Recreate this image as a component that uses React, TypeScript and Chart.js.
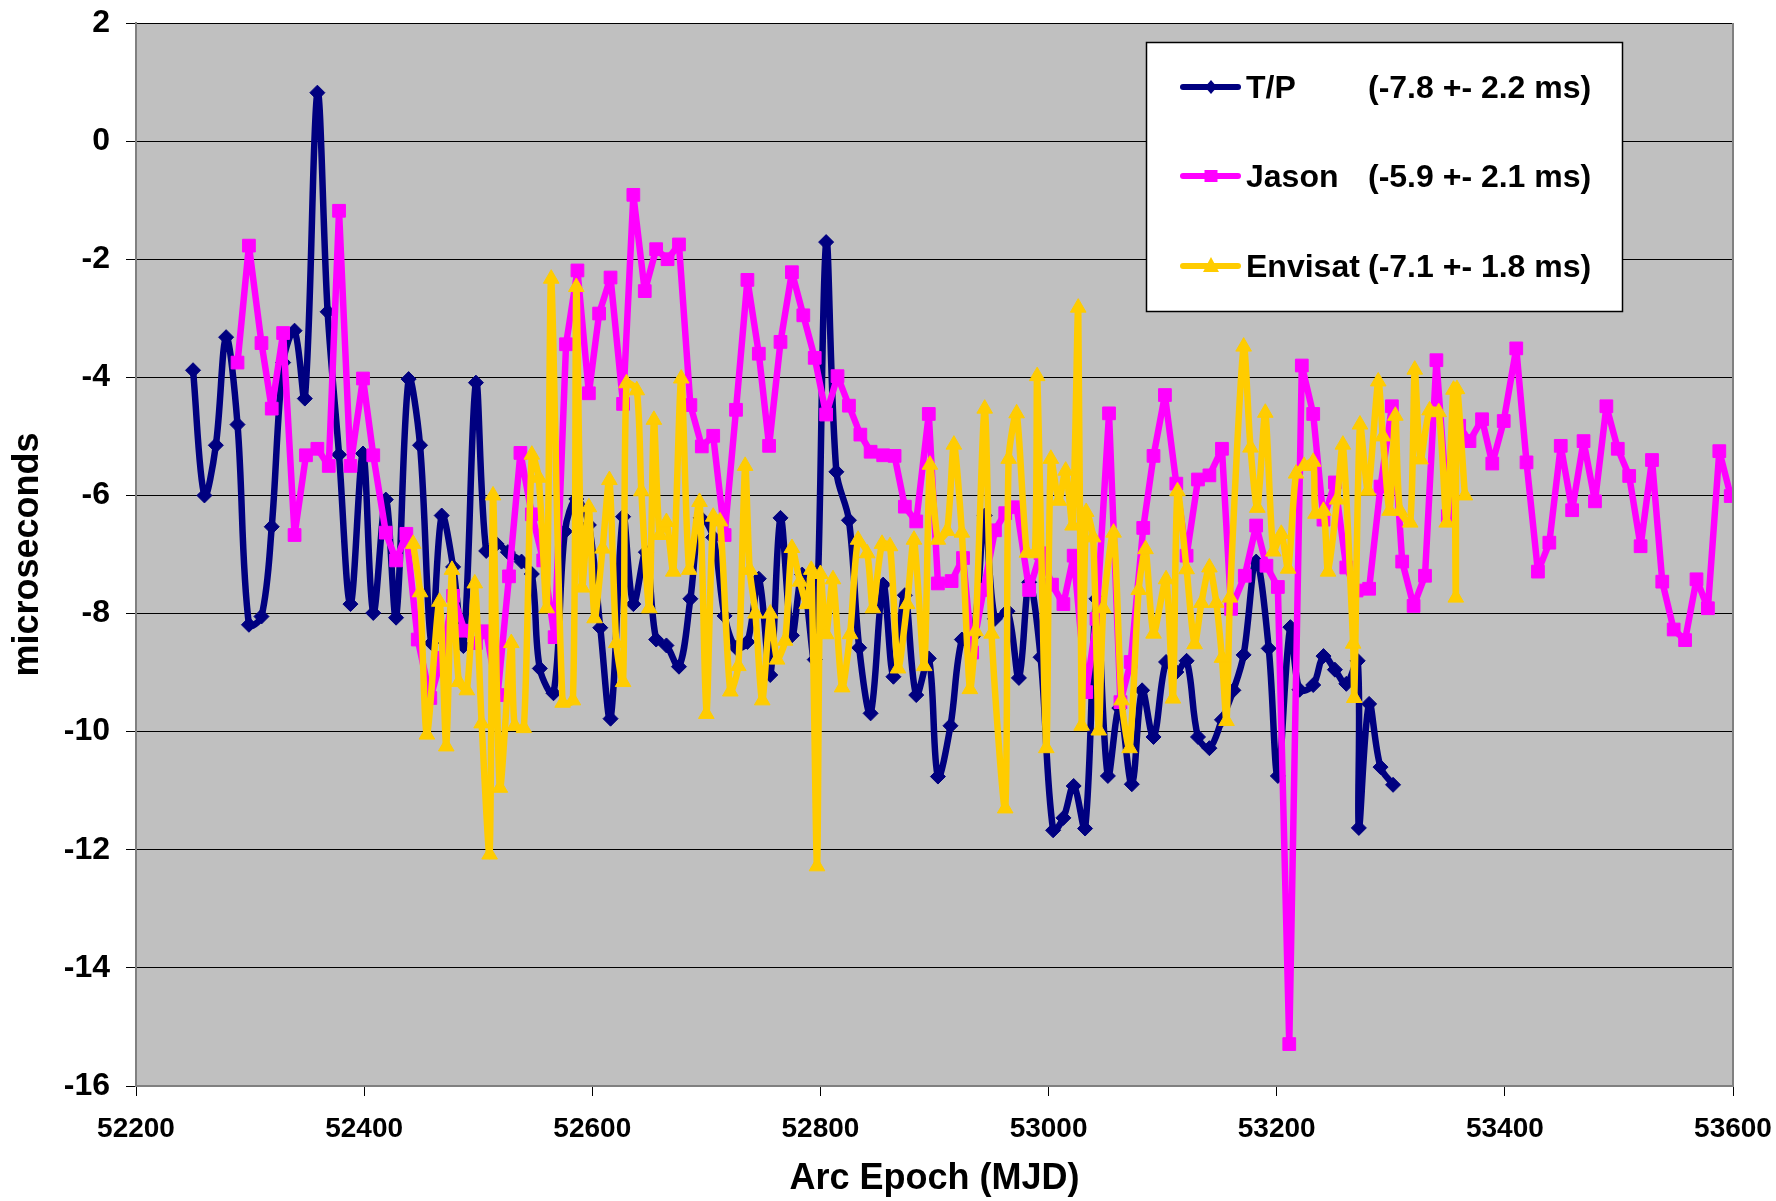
import React, { useEffect, useRef } from "react";
import { Chart, registerables } from "chart.js";

Chart.register(...registerables);

// ---- Data (MJD, microseconds) ----
const tpMjd = [
  52250, 52260, 52270, 52279, 52289, 52299, 52310, 52319, 52329, 52339, 52348, 52359, 52368, 52378, 52388,
  52399, 52408, 52419, 52428, 52439, 52449, 52459, 52468, 52478, 52487, 52498, 52507, 52516, 52526, 52538,
  52547, 52554, 52566, 52576, 52586, 52597, 52607, 52616, 52627, 52636, 52647, 52656, 52665, 52676, 52686,
  52695, 52706, 52716, 52726, 52736, 52746, 52756, 52765, 52775, 52784, 52795, 52805, 52814, 52825, 52834,
  52844, 52855, 52864, 52874, 52884, 52895, 52903, 52914, 52924, 52934, 52944, 52953, 52964, 52974, 52983,
  52993, 53004, 53013, 53022, 53032, 53042, 53052, 53062, 53073, 53082, 53092, 53103, 53112, 53121, 53131,
  53141, 53152, 53162, 53171, 53182, 53193, 53201, 53212, 53220, 53232, 53241, 53251, 53261, 53271, 53272,
  53281, 53291, 53302,
];
const tpVal = [
  -3.88, -6.0, -5.15, -3.32, -4.8, -8.19, -8.05, -6.53, -3.75, -3.21, -4.36, 0.82, -2.89, -5.31, -7.84,
  -5.29, -7.99, -6.07, -8.07, -4.03, -5.15, -8.5, -6.34, -7.21, -8.55, -4.09, -6.94, -6.82, -6.96, -7.12,
  -7.33, -8.93, -9.35, -6.61, -6.06, -6.5, -8.24, -9.78, -6.36, -7.84, -6.96, -8.44, -8.54, -8.9, -7.75,
  -6.38, -6.71, -8.04, -8.58, -8.48, -7.41, -9.04, -6.38, -8.37, -7.34, -8.78, -1.71, -5.6, -6.42, -8.58,
  -9.69, -7.51, -9.07, -7.69, -9.38, -8.76, -10.76, -9.9, -8.44, -8.38, -6.34, -8.09, -7.96, -9.09, -7.47,
  -8.74, -11.67, -11.46, -10.92, -11.64, -7.75, -10.75, -9.6, -10.89, -9.3, -10.09, -8.82, -8.99, -8.8, -10.09,
  -10.28, -9.8, -9.3, -8.7, -7.12, -8.59, -10.75, -8.23, -9.29, -9.21, -8.72, -8.95, -9.19, -8.8, -11.63,
  -9.53, -10.6, -10.9,
];

const jasonMjd = [
  52289, 52299, 52310, 52319, 52329, 52339, 52349, 52359, 52369, 52378, 52388, 52399, 52408, 52419, 52428,
  52437, 52447, 52458, 52468, 52478, 52488, 52498, 52507, 52517, 52527, 52537, 52547, 52557, 52567, 52577,
  52587, 52597, 52606, 52616, 52627, 52636, 52646, 52656, 52666, 52676, 52686, 52696, 52706, 52716, 52726,
  52736, 52746, 52755, 52765, 52775, 52785, 52795, 52805, 52815, 52825, 52835, 52844, 52855, 52865, 52874,
  52884, 52895, 52903, 52915, 52925, 52933, 52943, 52953, 52962, 52972, 52983, 52993, 53003, 53013, 53022,
  53033, 53042, 53053, 53063, 53072, 53083, 53092, 53102, 53112, 53121, 53131, 53141, 53152, 53160, 53172,
  53182, 53191, 53201, 53211, 53222, 53232, 53241, 53251, 53261, 53270, 53281, 53291, 53301, 53310, 53320,
  53330, 53340, 53350, 53360, 53369, 53380, 53389, 53399, 53410, 53419, 53429, 53439, 53449, 53459, 53469,
  53479, 53489, 53499, 53509, 53519, 53529, 53538, 53548, 53558, 53568, 53578, 53588, 53598, 53606,
];
const jasonVal = [
  -3.75, -1.77, -3.42, -4.53, -3.25, -6.67, -5.32, -5.21, -5.5, -1.18, -5.5, -4.02, -5.32, -6.63, -7.1,
  -6.65, -8.44, -9.43, -8.75, -7.7, -8.29, -8.5, -8.3, -9.38, -7.37, -5.28, -6.32, -7.1, -8.4, -3.44,
  -2.19, -4.27, -2.92, -2.31, -4.45, -0.91, -2.54, -1.83, -2.0, -1.75, -4.47, -5.17, -4.99, -6.67, -4.55,
  -2.35, -3.6, -5.16, -3.4, -2.22, -2.95, -3.67, -4.63, -3.98, -4.48, -4.97, -5.26, -5.32, -5.33, -6.19,
  -6.44, -4.62, -7.49, -7.45, -7.06, -8.66, -7.6, -6.59, -6.3, -6.2, -7.6, -6.98, -7.51, -7.84, -7.02,
  -9.33, -8.09, -4.61, -9.5, -8.82, -6.55, -5.33, -4.3, -5.8, -7.02, -5.73, -5.66, -5.21, -7.92, -7.36,
  -6.51, -7.19, -7.55, -15.29, -3.8, -4.62, -6.41, -5.78, -7.22, -7.61, -7.58, -5.85, -4.49, -7.12, -7.87,
  -7.36, -3.71, -6.35, -4.82, -5.08, -4.71, -5.46, -4.74, -3.51, -5.44, -7.29, -6.8, -5.16, -6.25, -5.08,
  -6.1, -4.49, -5.21, -5.67, -6.86, -5.4, -7.46, -8.27, -8.45, -7.42, -7.91, -5.25, -6.01, -5.8,
];

const envMjd = [
  52443, 52449, 52455, 52466, 52472, 52477, 52483, 52490, 52497, 52503, 52510, 52513, 52519, 52529, 52532,
  52540, 52547, 52553, 52560, 52564, 52574, 52583, 52586, 52591, 52597, 52602, 52609, 52615, 52621, 52627,
  52630, 52639, 52643, 52650, 52654, 52659, 52665, 52671, 52678, 52685, 52694, 52700, 52706, 52712, 52721,
  52728, 52734, 52738, 52743, 52749, 52756, 52762, 52769, 52775, 52782, 52788, 52792, 52797, 52800, 52805,
  52811, 52819, 52826, 52833, 52841, 52846, 52854, 52861, 52868, 52876, 52882, 52891, 52896, 52903, 52911,
  52917, 52924, 52931, 52936, 52944, 52950, 52962, 52965, 52972, 52981, 52988, 52990, 52998, 53002, 53009,
  53015, 53021, 53026, 53029, 53033, 53039, 53044, 53048, 53057, 53064, 53071, 53079, 53085, 53092, 53103,
  53109, 53113, 53121, 53128, 53134, 53141, 53147, 53152, 53156, 53159, 53171, 53177, 53183, 53190, 53197,
  53204, 53210, 53217, 53224, 53232, 53234, 53241, 53245, 53253, 53258, 53267, 53268, 53273, 53280, 53289,
  53293, 53299, 53304, 53308, 53317, 53321, 53326, 53334, 53342, 53349, 53355, 53357, 53358, 53365,
];
const envVal = [
  -6.82, -7.64, -10.05, -7.8, -10.25, -7.26, -9.16, -9.3, -7.49, -9.86, -12.08, -6.0, -10.95, -8.5, -9.9,
  -9.94, -5.31, -5.7, -7.91, -2.33, -9.51, -9.47, -2.47, -7.56, -6.2, -8.08, -6.9, -5.74, -8.5, -9.16,
  -4.1, -4.22, -5.93, -7.91, -4.72, -6.67, -6.45, -7.29, -4.02, -7.26, -6.11, -9.7, -6.36, -6.44, -9.32,
  -8.89, -5.5, -7.26, -8.0, -9.47, -8.0, -8.78, -8.46, -6.89, -7.46, -7.84, -7.26, -12.28, -7.33, -8.35,
  -7.42, -9.25, -8.35, -6.75, -6.98, -7.91, -6.82, -6.86, -8.93, -7.84, -6.75, -8.89, -5.48, -6.75, -6.6,
  -5.14, -6.63, -9.28, -8.3, -4.53, -8.34, -11.3, -5.38, -4.61, -6.97, -6.98, -3.98, -10.28, -5.38, -6.09,
  -5.58, -6.51, -2.82, -9.9, -6.28, -6.71, -9.98, -7.91, -6.63, -9.47, -10.28, -7.6, -6.91, -8.34, -7.42,
  -9.44, -5.93, -7.25, -8.52, -7.82, -7.22, -7.82, -8.75, -9.82, -7.73, -3.48, -5.19, -6.21, -4.6, -6.95,
  -6.65, -7.24, -5.63, -5.5, -5.43, -6.31, -6.26, -7.29, -6.07, -5.14, -8.51, -9.43, -4.8, -5.92, -4.07,
  -5.0, -6.26, -4.65, -6.26, -6.46, -3.87, -5.39, -4.56, -4.59, -6.46, -4.21, -7.73, -4.2, -6.0,
];

const seriesNames = ["T/P", "Jason", "Envisat"];
const seriesStats = ["(-7.8 +- 2.2 ms)", "(-5.9 +- 2.1 ms)", "(-7.1 +- 1.8 ms)"];
const seriesColors = ["#000080", "#FF00FF", "#FFCC00"];

const xMin = 52200;
const xMax = 53600;
const xStep = 200;
const yMin = -16;
const yMax = 2;
const yStep = 2;

const xTitle = "Arc Epoch (MJD)";
const yTitle = "microseconds";

const FONT = "'Liberation Sans', Arial, Helvetica, sans-serif";

function toPoints(xs: number[], ys: number[]) {
  return xs.map((x, i) => ({ x, y: ys[i] }));
}

const plotBgPlugin = {
  id: "plotBg",
  beforeDraw(chart: any) {
    const { ctx, chartArea } = chart;
    ctx.save();
    ctx.fillStyle = "#C0C0C0";
    ctx.fillRect(chartArea.left, chartArea.top, chartArea.right - chartArea.left, chartArea.bottom - chartArea.top);
    ctx.restore();
  },
  afterDatasetsDraw(chart: any) {
    const { ctx, chartArea } = chart;
    ctx.save();
    ctx.strokeStyle = "#808080";
    ctx.lineWidth = 2;
    ctx.beginPath();
    ctx.moveTo(chartArea.right, chartArea.top);
    ctx.lineTo(chartArea.right, chartArea.bottom);
    ctx.stroke();
    ctx.restore();
  },
};

function drawMarker(ctx: CanvasRenderingContext2D, kind: number, x: number, y: number) {
  ctx.beginPath();
  if (kind === 0) {
    ctx.moveTo(x - 6, y);
    ctx.lineTo(x, y - 7);
    ctx.lineTo(x + 6, y);
    ctx.lineTo(x, y + 7);
  } else if (kind === 1) {
    ctx.rect(x - 6.5, y - 6, 13, 12);
  } else {
    ctx.moveTo(x, y - 9);
    ctx.lineTo(x + 8, y + 6);
    ctx.lineTo(x - 8, y + 6);
  }
  ctx.closePath();
  ctx.fill();
}

const legendPlugin = {
  id: "customLegend",
  afterDraw(chart: any) {
    const ctx: CanvasRenderingContext2D = chart.ctx;
    const left = 1146.5;
    const top = 42.5;
    const w = 476;
    const h = 269;
    ctx.save();
    ctx.fillStyle = "#FFFFFF";
    ctx.fillRect(left, top, w, h);
    ctx.strokeStyle = "#000000";
    ctx.lineWidth = 1.5;
    ctx.strokeRect(left, top, w, h);
    const rows = [87, 176, 266];
    ctx.font = `bold 32px ${FONT}`;
    ctx.textBaseline = "middle";
    ctx.textAlign = "left";
    for (let i = 0; i < 3; i++) {
      const y = rows[i];
      ctx.strokeStyle = seriesColors[i];
      ctx.fillStyle = seriesColors[i];
      ctx.lineWidth = 6;
      ctx.lineCap = "round";
      ctx.beginPath();
      ctx.moveTo(1183, y);
      ctx.lineTo(1238, y);
      ctx.stroke();
      drawMarker(ctx, i, 1211, y);
      ctx.fillStyle = "#000000";
      ctx.fillText(seriesNames[i], 1246, y + 2);
      ctx.fillText(seriesStats[i], 1368, y + 2);
    }
    ctx.restore();
  },
};

export default function App() {
  const canvasRef = useRef<HTMLCanvasElement | null>(null);

  useEffect(() => {
    const canvas = canvasRef.current;
    if (!canvas) return;
    const common = {
      borderWidth: 6.5,
      borderJoinStyle: "round",
      borderCapStyle: "round",
      pointBorderWidth: 1,
    };
    const chart = new Chart(canvas, {
      type: "line",
      data: {
        datasets: [
          {
            ...common,
            label: seriesNames[0],
            data: toPoints(tpMjd, tpVal),
            borderColor: seriesColors[0],
            backgroundColor: seriesColors[0],
            pointBackgroundColor: seriesColors[0],
            pointBorderColor: seriesColors[0],
            pointStyle: "rectRot",
            pointRadius: 7.5,
            tension: 0.35,
            order: 3,
          },
          {
            ...common,
            label: seriesNames[1],
            data: toPoints(jasonMjd, jasonVal),
            borderColor: seriesColors[1],
            backgroundColor: seriesColors[1],
            pointBackgroundColor: seriesColors[1],
            pointBorderColor: seriesColors[1],
            pointStyle: "rect",
            pointRadius: 9,
            tension: 0,
            order: 2,
          },
          {
            ...common,
            label: seriesNames[2],
            data: toPoints(envMjd, envVal),
            borderColor: seriesColors[2],
            backgroundColor: seriesColors[2],
            pointBackgroundColor: seriesColors[2],
            pointBorderColor: seriesColors[2],
            pointStyle: "triangle",
            pointRadius: 9,
            tension: 0.25,
            order: 1,
          },
        ],
      },
      options: {
        animation: false,
        responsive: false,
        devicePixelRatio: 1,
        events: [],
        layout: { padding: { top: 23, right: 43, left: 0, bottom: 0 } },
        plugins: {
          legend: { display: false },
          tooltip: { enabled: false },
          title: { display: false },
        },
        scales: {
          x: {
            type: "linear",
            min: xMin,
            max: xMax,
            afterFit: (scale: any) => {
              scale.height = 115;
              scale.paddingLeft = 0;
              scale.paddingRight = 0;
            },
            ticks: {
              stepSize: xStep,
              color: "#000000",
              font: { family: FONT, size: 28, weight: "bold" },
              padding: 16,
              maxRotation: 0,
              autoSkip: false,
              callback: (v: any) => String(v),
            },
            grid: {
              drawOnChartArea: false,
              drawTicks: true,
              tickLength: 10,
              tickColor: "#000000",
              tickWidth: 1,
            },
            border: { display: true, color: "#808080", width: 2 },
            title: {
              display: true,
              text: xTitle,
              color: "#000000",
              font: { family: FONT, size: 36, weight: "bold" },
              padding: { top: 0, bottom: 0 },
            },
          },
          y: {
            type: "linear",
            min: yMin,
            max: yMax,
            afterFit: (scale: any) => {
              scale.width = 136;
              scale.paddingTop = 0;
              scale.paddingBottom = 0;
            },
            ticks: {
              stepSize: yStep,
              color: "#000000",
              font: { family: FONT, size: 32, weight: "bold" },
              padding: 16,
              callback: (v: any) => String(v),
            },
            grid: {
              color: "#000000",
              lineWidth: 1,
              drawTicks: true,
              tickLength: 10,
              tickColor: "#000000",
            },
            border: { display: true, color: "#808080", width: 2 },
            title: {
              display: true,
              text: yTitle,
              color: "#000000",
              font: { family: FONT, size: 36, weight: "bold" },
              padding: { top: 6, bottom: 0 },
            },
          },
        },
      },
      plugins: [plotBgPlugin, legendPlugin],
    } as any);
    return () => {
      chart.destroy();
    };
  }, []);

  return (
    <div style={{ position: "absolute", left: 0, top: 0, width: 1776, height: 1201, background: "#FFFFFF" }}>
      <canvas ref={canvasRef} width={1776} height={1201} style={{ display: "block", width: 1776, height: 1201 }} />
    </div>
  );
}
